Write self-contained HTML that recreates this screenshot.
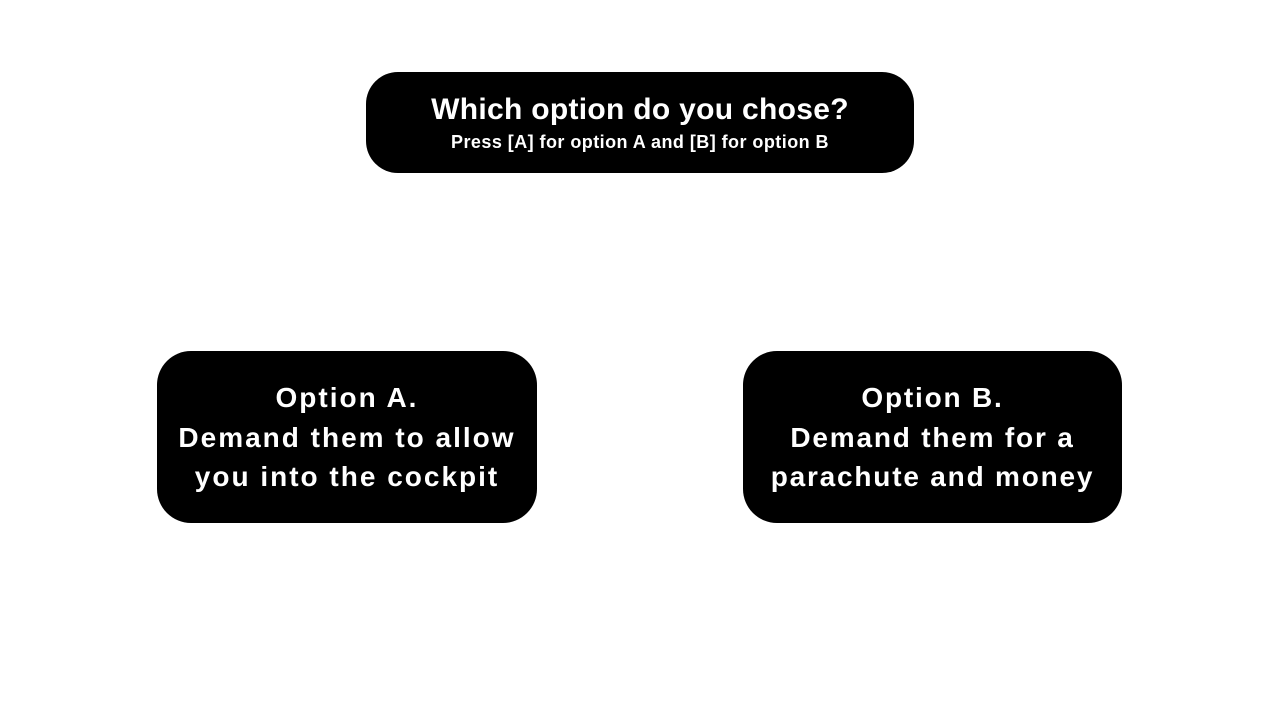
<!DOCTYPE html>
<html><head><style>
body{margin:0;width:1279px;height:720px;background:#fff;position:relative;overflow:hidden;font-family:"Liberation Sans",sans-serif;color:#fff;}
.b{position:absolute;background:#000;text-align:center;font-weight:bold;}
</style></head><body>
<div class="b" style="left:366px;top:72px;width:548px;height:101px;border-radius:32px;">
<div style="font-size:30px;margin-top:20px;line-height:36px;letter-spacing:0.3px;">Which option do you chose?</div>
<div style="font-size:18px;line-height:24px;margin-top:2px;letter-spacing:0.45px;">Press [A] for option A and [B] for option B</div>
</div>
<div class="b" style="left:157px;top:351px;width:380px;height:172px;border-radius:34px;font-size:28px;line-height:39.5px;padding-top:27px;box-sizing:border-box;letter-spacing:2px;">Option A.<br>Demand them to allow<br>you into the cockpit</div>
<div class="b" style="left:743px;top:351px;width:379px;height:172px;border-radius:34px;font-size:28px;line-height:39.5px;padding-top:27px;box-sizing:border-box;letter-spacing:1.8px;">Option B.<br>Demand them for a<br>parachute and money</div>
</body></html>
